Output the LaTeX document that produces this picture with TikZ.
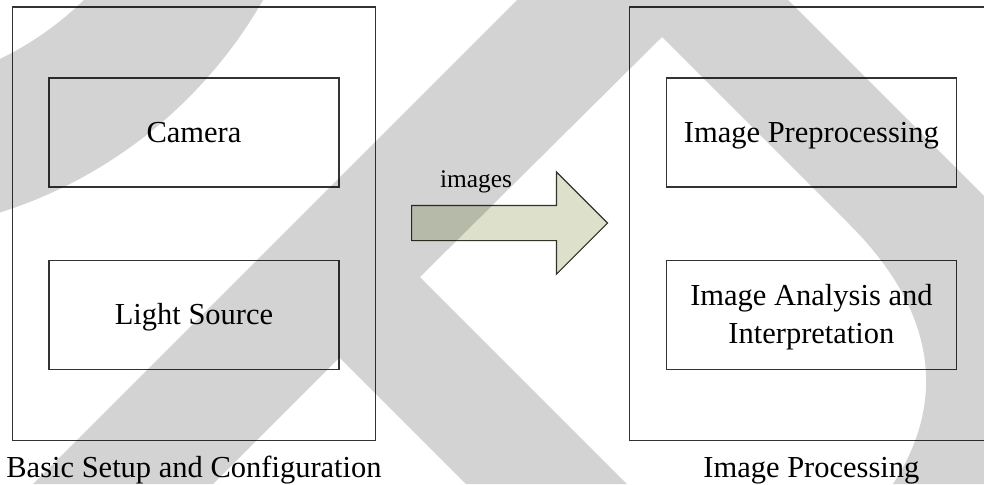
\documentclass[tikz,border=0pt]{standalone}
\usepackage{fontspec}
\setmainfont{Liberation Serif}
\usetikzlibrary{positioning, fit, shapes.arrows}
\definecolor{wmgray}{RGB}{211,211,211}
\definecolor{flowfill}{RGB}{221,225,204}
\definecolor{flowline}{RGB}{50,52,40}

\begin{document}
\begin{tikzpicture}[
    x=0.5pt, y=-0.5pt,
    node distance=36pt and 163pt,
    unit/.style={draw=black!80, line width=0.7pt, minimum width=145pt, minimum height=54.5pt,
                 inner sep=0pt, align=center, text height=10.5pt, text depth=1pt,
                 font=\fontsize{15.25}{18.7}\selectfont},
    group/.style={draw=black!80, line width=0.7pt, inner xsep=18pt, inner ysep=35.25pt},
    caption/.style={font=\fontsize{15.25}{18.7}\selectfont, inner sep=0pt, anchor=base},
    flowarrow/.style={single arrow, draw=flowline, fill=flowfill, line width=0.6pt,
                      inner sep=0pt, text height=17pt, text depth=0pt, minimum height=98pt,
                      single arrow head extend=16.75pt, single arrow tip angle=90},
    wmark/.style={fill=wmgray},
]
\path[use as bounding box, clip] (0,0) rectangle (984,484);

\node[unit] (cam) at (194,132.5) {Camera};
\node[unit, below=of cam] (light) {Light Source};
\node[unit, right=of cam] (prep) {Image Preprocessing};
\node[unit, below=of prep, text height=29.2pt] (anal) {Image Analysis and\\Interpretation};

\node[group, fit=(cam)(light)] (setup) {};
\node[group, fit=(prep)(anal)] (proc) {};
\node[caption, below=18.25pt of setup.south, anchor=base] (setuplbl) {Basic Setup and Configuration};
\node[caption, below=18.25pt of proc.south, anchor=base] (proclbl) {Image Processing};

\node[flowarrow, anchor=tail] (flow) at (411,223) {};
\node[caption, font=\fontsize{12.7}{15}\selectfont] (flowlbl) at (476,187) {images};

% watermark on top
\begin{scope}[blend mode=multiply]
  \fill[wmark, even odd rule] (-140,-230) circle[radius=464] (-140,-230) circle[radius=321];
  \fill[wmark] (517,0) -- (788,0) -- (984,196) -- (984,484) -- (893,484)
    .. controls (948,400) and (935,310) .. (850,225) -- (662,37) -- (420,277) -- (627,484)
    -- (466,484) -- (339.5,357.5) -- (213,484) -- (33,484) -- cycle;
\end{scope}

\end{tikzpicture}
\end{document}
